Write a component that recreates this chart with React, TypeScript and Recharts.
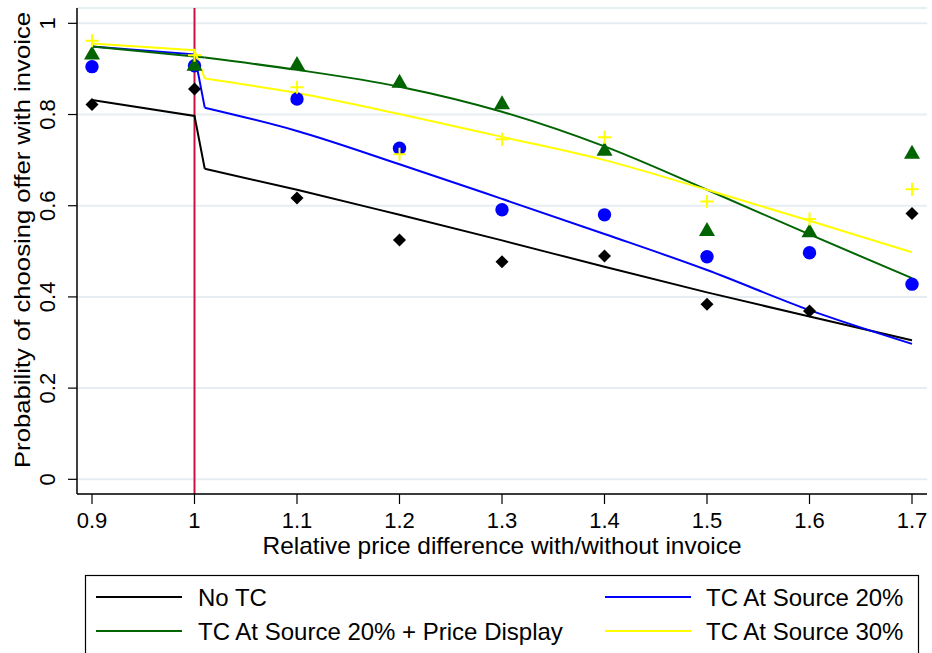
import { ComposedChart, Line, Scatter, XAxis, YAxis, CartesianGrid, ReferenceLine } from "recharts";

// observed shares at each price ratio
const priceRatios = [0.9, 1, 1.1, 1.2, 1.3, 1.4, 1.5, 1.6, 1.7];
const noTcObs = [0.822, 0.856, 0.617, 0.525, 0.477, 0.49, 0.384, 0.369, 0.583];
const tc20Obs = [0.905, 0.907, 0.834, 0.726, 0.591, 0.58, 0.488, 0.497, 0.428];
const tc20pdObs = [0.935, 0.91, 0.912, 0.873, 0.826, 0.724, 0.548, 0.545, 0.717];
const tc30Obs = [0.962, 0.93, 0.86, 0.713, 0.746, 0.75, 0.609, 0.571, 0.636];

// fitted values, below the threshold and from the jump just after ratio 1
const fitLowRatios = [0.9, 1, 1.01];
const fitHighRatios = [1.01, 1.1, 1.2, 1.3, 1.4, 1.5, 1.6, 1.7];
const noTcFitLow = [0.832, 0.797, 0.681];
const noTcFitHigh = [0.681, 0.635, 0.58, 0.524, 0.466, 0.41, 0.357, 0.305];
const tc20FitLow = [0.949, 0.932, 0.815];
const tc20FitHigh = [0.815, 0.764, 0.691, 0.615, 0.538, 0.459, 0.371, 0.297];
const tc20pdFitLow = [0.949, 0.927, 0.925];
const tc20pdFitHigh = [0.925, 0.898, 0.861, 0.806, 0.73, 0.635, 0.537, 0.441];
const tc30FitLow = [0.956, 0.941, 0.879];
const tc30FitHigh = [0.879, 0.847, 0.801, 0.751, 0.7, 0.635, 0.567, 0.498];

const xTicks = [0.9, 1, 1.1, 1.2, 1.3, 1.4, 1.5, 1.6, 1.7];
const yTicks = [0, 0.2, 0.4, 0.6, 0.8, 1];

const seriesNames = ["No TC", "TC At Source 20%", "TC At Source 20% + Price Display", "TC At Source 30%"];
const colors = ["#000000", "#0000ff", "#006400", "#ffff00"];

const FONT = "'Liberation Sans', Arial, Helvetica, sans-serif";

const rows = (xs: number[], ys: number[]) => xs.map((x, i) => ({ x, y: ys[i] }));

const Diamond = (p: any) => (
  <polygon
    points={`${p.cx},${p.cy - 6.5} ${p.cx + 6.5},${p.cy} ${p.cx},${p.cy + 6.5} ${p.cx - 6.5},${p.cy}`}
    fill="#000000"
  />
);
const Dot = (p: any) => <circle cx={p.cx} cy={p.cy} r={6.7} fill="#0000ff" />;
const Triangle = (p: any) => (
  <polygon
    points={`${p.cx},${p.cy - 7.5} ${p.cx + 8},${p.cy + 6.5} ${p.cx - 8},${p.cy + 6.5}`}
    fill="#006400"
  />
);
const Plus = (p: any) => (
  <path
    d={`M${p.cx - 6.5},${p.cy}H${p.cx + 6.5}M${p.cx},${p.cy - 6.5}V${p.cy + 6.5}`}
    stroke="#ffff00"
    strokeWidth={2}
    fill="none"
  />
);

const YTick = ({ x, y, payload }: any) => (
  <text
    x={x}
    y={y}
    transform={`rotate(-90 ${x} ${y})`}
    textAnchor="middle"
    fontSize={22}
    fontFamily={FONT}
    fill="#000"
  >
    {String(payload.value)}
  </text>
);

const XTitle = ({ viewBox }: any) => (
  <text
    x={viewBox.x + viewBox.width / 2}
    y={554}
    textAnchor="middle"
    fontSize={24}
    fontFamily={FONT}
    textLength={479}
    lengthAdjust="spacingAndGlyphs"
    fill="#000"
  >
    Relative price difference with/without invoice
  </text>
);

const YTitle = () => (
  <text
    x={30}
    y={240}
    transform="rotate(-90 30 240)"
    textAnchor="middle"
    fontSize={22}
    fontFamily={FONT}
    textLength={456}
    lengthAdjust="spacingAndGlyphs"
    fill="#000"
  >
    Probability of choosing offer with invoice
  </text>
);

function LegendBox() {
  const cols = [
    { x1: 96, x2: 182, tx: 198 },
    { x1: 605, x2: 691, tx: 706 },
  ];
  const rowsY = [597, 631];
  return (
    <svg width={932} height={653} style={{ position: "absolute", left: 0, top: 0, pointerEvents: "none" }}>
      <rect x={85.5} y={575.5} width={833} height={100} fill="#fff" stroke="#000" strokeWidth={1.2} />
      {seriesNames.map((name, i) => {
        const c = cols[i % 2];
        const ry = rowsY[Math.floor(i / 2)];
        return (
          <g key={name}>
            <line x1={c.x1} x2={c.x2} y1={ry} y2={ry} stroke={colors[i]} strokeWidth={2} />
            <text x={c.tx} y={ry + 8.7} fontSize={24} fontFamily={FONT} fill="#000">
              {name}
            </text>
          </g>
        );
      })}
    </svg>
  );
}

export default function App() {
  const obs = [noTcObs, tc20Obs, tc20pdObs, tc30Obs];
  const fitsLow = [noTcFitLow, tc20FitLow, tc20pdFitLow, tc30FitLow];
  const fitsHigh = [noTcFitHigh, tc20FitHigh, tc20pdFitHigh, tc30FitHigh];
  const shapes = [Diamond, Dot, Triangle, Plus];
  return (
    <div style={{ position: "relative", width: 932, height: 653, background: "#fff" }}>
      <style>{"body{margin:0;background:#fff}"}</style>
      <ComposedChart width={932} height={653} margin={{ top: 8, right: 5, left: 0, bottom: 99 }}>
        <CartesianGrid vertical={false} stroke="#e6eef2" strokeWidth={2} />
        <XAxis
          type="number"
          dataKey="x"
          domain={[0.88537, 1.71463]}
          ticks={xTicks}
          allowDataOverflow
          height={60}
          tickSize={10}
          tickMargin={8}
          tick={{ fontSize: 22, fontFamily: FONT, fill: "#000" }}
          axisLine={{ stroke: "#000", strokeWidth: 1.5 }}
          tickLine={{ stroke: "#000", strokeWidth: 1.2 }}
          label={<XTitle />}
        />
        <YAxis
          type="number"
          dataKey="y"
          domain={[-0.0322, 1.0336]}
          ticks={yTicks}
          allowDataOverflow
          width={77}
          tickSize={9}
          tickMargin={13}
          tick={<YTick />}
          axisLine={{ stroke: "#000", strokeWidth: 1.5 }}
          tickLine={{ stroke: "#000", strokeWidth: 1.2 }}
          label={<YTitle />}
        />
        <ReferenceLine x={1} stroke="#cc1040" strokeWidth={2} />
        {obs.map((o, i) => (
          <Scatter
            key={`s${i}`}
            name={seriesNames[i]}
            data={rows(priceRatios, o)}
            shape={shapes[i]}
            isAnimationActive={false}
          />
        ))}
        {fitsLow.map((f, i) => (
          <Line
            key={`a${i}`}
            name={seriesNames[i]}
            data={rows(fitLowRatios, f)}
            dataKey="y"
            type="linear"
            stroke={colors[i]}
            strokeWidth={2}
            dot={false}
            activeDot={false}
            isAnimationActive={false}
          />
        ))}
        {fitsHigh.map((f, i) => (
          <Line
            key={`b${i}`}
            name={seriesNames[i]}
            data={rows(fitHighRatios, f)}
            dataKey="y"
            type="monotone"
            stroke={colors[i]}
            strokeWidth={2}
            dot={false}
            activeDot={false}
            isAnimationActive={false}
          />
        ))}
      </ComposedChart>
      <LegendBox />
    </div>
  );
}
